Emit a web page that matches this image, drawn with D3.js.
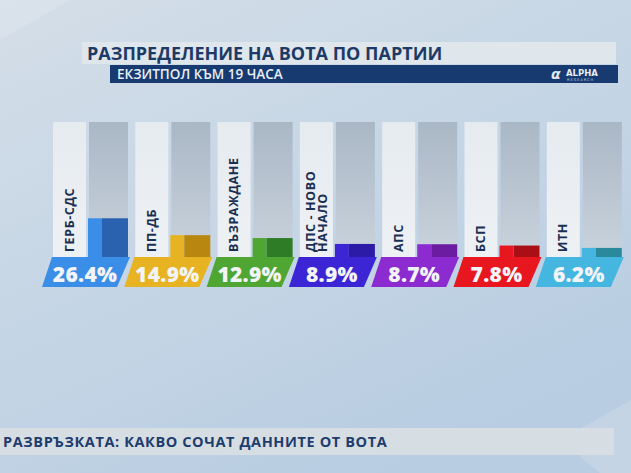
<!DOCTYPE html>
<html><head><meta charset="utf-8">
<script src="https://cdn.jsdelivr.net/npm/d3@7"></script>
<style>html,body{margin:0;padding:0;overflow:hidden;background:#c4d4e3;}</style>
</head><body>
<script>
const parties = ["ГЕРБ-СДС","ПП-ДБ","ВЪЗРАЖДАНЕ","ДПС - НОВО НАЧАЛО","АПС","БСП","ИТН"];
const labelLines = [["ГЕРБ-СДС"],["ПП-ДБ"],["ВЪЗРАЖДАНЕ"],["ДПС - НОВО","НАЧАЛО"],["АПС"],["БСП"],["ИТН"]];
const values = [26.4,14.9,12.9,8.9,8.7,7.8,6.2];
const valueLabels = ["26.4%","14.9%","12.9%","8.9%","8.7%","7.8%","6.2%"];
const lightColors = ["#3b8ee8","#e8b322","#4fa632","#3b25d4","#8b2bd0","#e8161f","#44b6df"];
const darkColors = ["#2b62b0","#b8870f","#2f7c26","#2b1ba6","#6c1ca0","#a90f14","#2a8a9c"];
const title = "РАЗПРЕДЕЛЕНИЕ НА ВОТА ПО ПАРТИИ";
const subtitle = "ЕКЗИТПОЛ КЪМ 19 ЧАСА";
const footer = "РАЗВРЪЗКАТА: КАКВО СОЧАТ ДАННИТЕ ОТ ВОТА";

const W = 631, H = 473;
const svg = d3.select("body").append("svg").attr("width", W).attr("height", H);
const defs = svg.append("defs");

const bg = defs.append("linearGradient").attr("id","bg").attr("x1",0).attr("y1",0).attr("x2",0.6).attr("y2",1);
bg.append("stop").attr("offset","0%").attr("stop-color","#d4dee8");
bg.append("stop").attr("offset","50%").attr("stop-color","#c6d6e5");
bg.append("stop").attr("offset","100%").attr("stop-color","#b8cde2");
svg.append("rect").attr("width",W).attr("height",H).attr("fill","url(#bg)");
svg.append("path").attr("d","M0,0 L70,0 L0,40 Z").attr("fill","#dde6ee").attr("opacity",0.6);
svg.append("path").attr("d","M560,440 L631,400 L631,473 L600,473 Z").attr("fill","#cfdbe7").attr("opacity",0.5);

const grayG = defs.append("linearGradient").attr("id","gray").attr("x1",0).attr("y1",0).attr("x2",0).attr("y2",1);
grayG.append("stop").attr("offset","0%").attr("stop-color","#aab7c5");
grayG.append("stop").attr("offset","100%").attr("stop-color","#c9d3dd");
const whiteG = defs.append("linearGradient").attr("id","white").attr("x1",0).attr("y1",0).attr("x2",0).attr("y2",1);
whiteG.append("stop").attr("offset","0%").attr("stop-color","#e6ebf0");
whiteG.append("stop").attr("offset","100%").attr("stop-color","#eef1f4");

// Title
svg.append("rect").attr("x",82).attr("y",42).attr("width",534).attr("height",22).attr("fill","#dfe6ec");
svg.append("text").attr("x",87).attr("y",59.5).text(title)
  .attr("font-family","Open Sans, sans-serif").attr("font-weight",700).attr("font-size",18).attr("fill","#1d3a66");
svg.append("rect").attr("x",110).attr("y",65).attr("width",508).attr("height",18).attr("fill","#173a70");
svg.append("text").attr("x",117).attr("y",78.5).text(subtitle)
  .attr("font-family","Open Sans, sans-serif").attr("font-weight",600).attr("font-size",13.5).attr("fill","#e8eef5");
// Logo
const logo = svg.append("g");
logo.append("text").attr("x",551).attr("y",79).text("α").attr("font-family","DejaVu Sans, sans-serif")
  .attr("font-weight",700).attr("font-style","italic").attr("font-size",14).attr("fill","#dfe8f2");
logo.append("text").attr("x",566).attr("y",76).text("ALPHA").attr("font-family","DejaVu Sans, sans-serif")
  .attr("font-weight",700).attr("font-size",8.5).attr("fill","#e6edf5");
logo.append("text").attr("x",567).attr("y",80.5).text("RESEARCH").attr("font-family","DejaVu Sans, sans-serif")
  .attr("font-size",3.6).attr("letter-spacing",1).attr("fill","#c8d4e2");

// Scales
const x = d3.scaleBand().domain(parties).range([53, 53 + 7*82.3]).padding(0);
const y = d3.scaleLinear().domain([0, 92]).range([257, 122]);

const g = svg.append("g").selectAll("g").data(parties).join("g")
  .attr("transform", d => `translate(${x(d)},0)`);

g.append("rect").attr("x",0).attr("y",y(92)).attr("width",33).attr("height",y(0)-y(92)).attr("fill","url(#white)");
g.append("rect").attr("x",36).attr("y",y(92)).attr("width",39).attr("height",y(0)-y(92)).attr("fill","url(#gray)");
g.append("rect").attr("x",35).attr("y",(d,i)=>y(values[i])).attr("width",14)
  .attr("height",(d,i)=>y(0)-y(values[i])).attr("fill",(d,i)=>lightColors[i]);
g.append("rect").attr("x",49).attr("y",(d,i)=>y(values[i])).attr("width",26)
  .attr("height",(d,i)=>y(0)-y(values[i])).attr("fill",(d,i)=>darkColors[i]);
g.append("path").attr("d",`M-1,${y(0)} L77,${y(0)} L64,${y(0)+30} L-11,${y(0)+30} Z`)
  .attr("fill",(d,i)=>lightColors[i]);
g.append("text").attr("x",32).attr("y",y(0)+24.5).attr("text-anchor","middle")
  .text((d,i)=>valueLabels[i])
  .attr("font-family","Open Sans, sans-serif").attr("font-weight",800).attr("font-size",21)
  .attr("letter-spacing",0.3)
  .attr("fill","#f2f4f7");
g.each(function(d,i){
  const lines = labelLines[i];
  const n = lines.length;
  lines.forEach((ln,j)=>{
    const cx = n===1 ? 16 : 11 + j*12;
    d3.select(this).append("text")
      .attr("transform",`translate(${cx+4.5},252) rotate(-90)`)
      .attr("text-anchor","start")
      .text(ln)
      .attr("font-family","Open Sans, sans-serif").attr("font-weight",700).attr("font-size",12.5)
      .attr("letter-spacing",0.6)
      .attr("fill","#1a2f52");
  });
});

svg.append("rect").attr("x",0).attr("y",428).attr("width",614).attr("height",27).attr("fill","#d6dde3");
svg.append("text").attr("x",3).attr("y",447).text(footer)
  .attr("font-family","Open Sans, sans-serif").attr("font-weight",700).attr("font-size",14.5)
  .attr("letter-spacing",0.6).attr("fill","#1d3d6e");
</script>
</body></html>
